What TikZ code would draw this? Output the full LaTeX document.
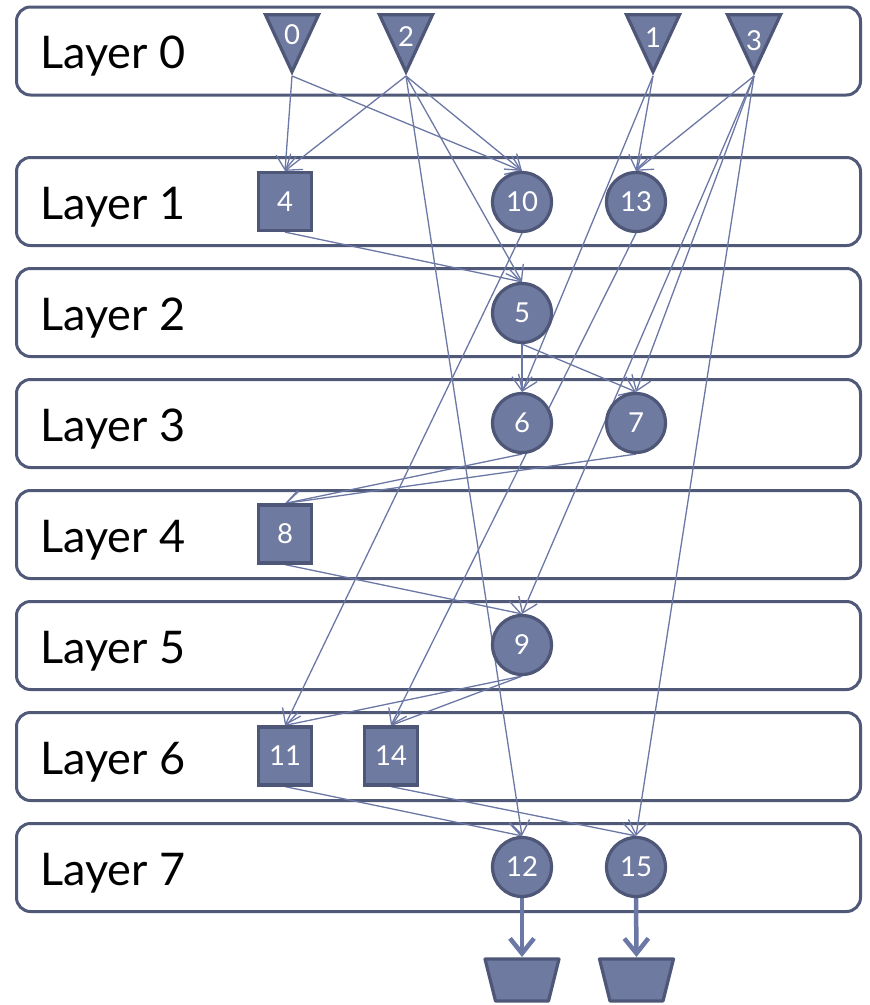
\documentclass[tikz,border=0pt]{standalone}
\usepackage{fontspec}
\setmainfont{Lato}
\usetikzlibrary{arrows.meta,shapes.geometric}
\definecolor{nodefill}{HTML}{6E7AA0}
\definecolor{nodeline}{HTML}{4E5777}
\definecolor{edgecol}{HTML}{6B77A5}
\definecolor{boxline}{HTML}{505977}
\pgfdeclarelayer{boxes}
\pgfdeclarelayer{links}
\pgfsetlayers{boxes,links,main}

\begin{document}
\begin{tikzpicture}[x=1pt,y=-1pt,
  layerbox/.style={draw=boxline, line width=3pt, rounded corners=14pt,
    minimum width=844pt, minimum height=88pt, inner sep=0pt},
  layertext/.style={anchor=base west, font=\fontsize{45}{50}\selectfont, inner sep=0pt},
  numtext/.style={text=white, font=\fontsize{27.5}{30}\selectfont, inner sep=0pt},
  opnode/.style={circle, fill=nodefill, draw=nodeline, line width=3.2pt,
    minimum size=59pt, inner sep=0pt, numtext},
  memnode/.style={rectangle, fill=nodefill, draw=nodeline, line width=3.2pt,
    minimum width=53pt, minimum height=58pt, inner sep=0pt, numtext},
  innode/.style={isosceles triangle, isosceles triangle stretches,
    shape border rotate=-90, fill=nodefill, draw=nodeline, line width=3.2pt,
    minimum width=53pt, minimum height=57pt, inner sep=0pt, anchor=apex},
  outshape/.style={fill=nodefill, draw=nodeline, line width=3.2pt, line join=round},
  link/.style={draw=edgecol, line width=1.3pt, -{Straight Barb[length=14pt,width=20pt]}},
  outlink/.style={draw=edgecol, line width=4.5pt, -{Straight Barb[length=15pt,width=24pt]}}
]
\useasboundingbox (0,0) rectangle (870,1005);

% layer bands
\begin{pgfonlayer}{boxes}
\node[layerbox] (L0) at (438.5,51) {};
\node[layerbox] (L1) at (438.5,201.5) {};
\node[layerbox] (L2) at (438.5,312.5) {};
\node[layerbox] (L3) at (438.5,423.5) {};
\node[layerbox] (L4) at (438.5,534.5) {};
\node[layerbox] (L5) at (438.5,645.5) {};
\node[layerbox] (L6) at (438.5,756.5) {};
\node[layerbox] (L7) at (438.5,867.5) {};
\end{pgfonlayer}

\node[layertext] (T0) at (40,68) {Layer 0};
\node[layertext] (T1) at (40,219) {Layer 1};
\node[layertext] (T2) at (40,330) {Layer 2};
\node[layertext] (T3) at (40,441) {Layer 3};
\node[layertext] (T4) at (40,552) {Layer 4};
\node[layertext] (T5) at (40,663) {Layer 5};
\node[layertext] (T6) at (40,774) {Layer 6};
\node[layertext] (T7) at (40,885) {Layer 7};

% inputs
\node[innode] (n0) at (292,76) {};
\node[innode] (n2) at (406,76) {};
\node[innode] (n1) at (653,76) {};
\node[innode] (n3) at (754,76) {};
\node[numtext] (t0) at (292,35) {0};
\node[numtext] (t2) at (406,37) {2};
\node[numtext] (t1) at (653,38) {1};
\node[numtext] (t3) at (754,41) {3};

% operations
\node[memnode] (n4)  at (285,201.5) {4};
\node[opnode]  (n10) at (522,202) {10};
\node[opnode]  (n13) at (636,202) {13};
\node[opnode]  (n5)  at (522,313) {5};
\node[opnode]  (n6)  at (522,423) {6};
\node[opnode]  (n7)  at (636,423) {7};
\node[memnode] (n8)  at (285,534) {8};
\node[opnode]  (n9)  at (522,645) {9};
\node[memnode] (n11) at (285,756) {11};
\node[memnode] (n14) at (391,756) {14};
\node[opnode]  (n12) at (522,867) {12};
\node[opnode]  (n15) at (636,867) {15};

% outputs: top edge midpoints, then the trapezoids hanging below them
\coordinate (o12) at (522,957);
\coordinate (o15) at (636.5,957);
\draw[outshape] (o12) ++(-37,2) -- ++(74,0) -- ++(-10.5,42) -- ++(-53,0) -- cycle;
\draw[outshape] (o15) ++(-37,2) -- ++(74,0) -- ++(-10.5,42) -- ++(-53,0) -- cycle;

% dependencies
\begin{pgfonlayer}{links}
\draw[link] (n0.apex) -- (n4.north);
\draw[link] (n0.apex) -- (n10.north);
\draw[link] (n2.apex) -- (n4.north);
\draw[link] (n2.apex) -- (n10.north);
\draw[link] (n2.apex) -- (n5.north);
\draw[link] (n2.apex) -- (n12.north);
\draw[link] (n1.apex) -- (n13.north);
\draw[link] (n1.apex) -- (n6.north);
\draw[link] (n3.apex) -- (n13.north);
\draw[link] (n3.apex) -- (n7.north);
\draw[link] (n3.apex) -- (n9.north);
\draw[link] (n3.apex) -- (n15.north);
\draw[link] (n4.south) -- (n5.north);
\draw[link] (n10.south) -- (n11.north);
\draw[link] (n13.south) -- (n14.north);
\draw[link] (n5.south) -- (n6.north);
\draw[link] (n5.south) -- (n7.north);
\draw[link] (n6.south) -- (n8.north);
\draw[link] (n7.south) -- (n8.north);
\draw[link] (n8.south) -- (n9.north);
\draw[link] (n9.south) -- (n11.north);
\draw[link] (n9.south) -- (n14.north);
\draw[link] (n11.south) -- (n12.north);
\draw[link] (n14.south) -- (n15.north);
\draw[outlink] (n12.south) -- (o12);
\draw[outlink] (n15.south) -- (o15);
\end{pgfonlayer}
\end{tikzpicture}
\end{document}
